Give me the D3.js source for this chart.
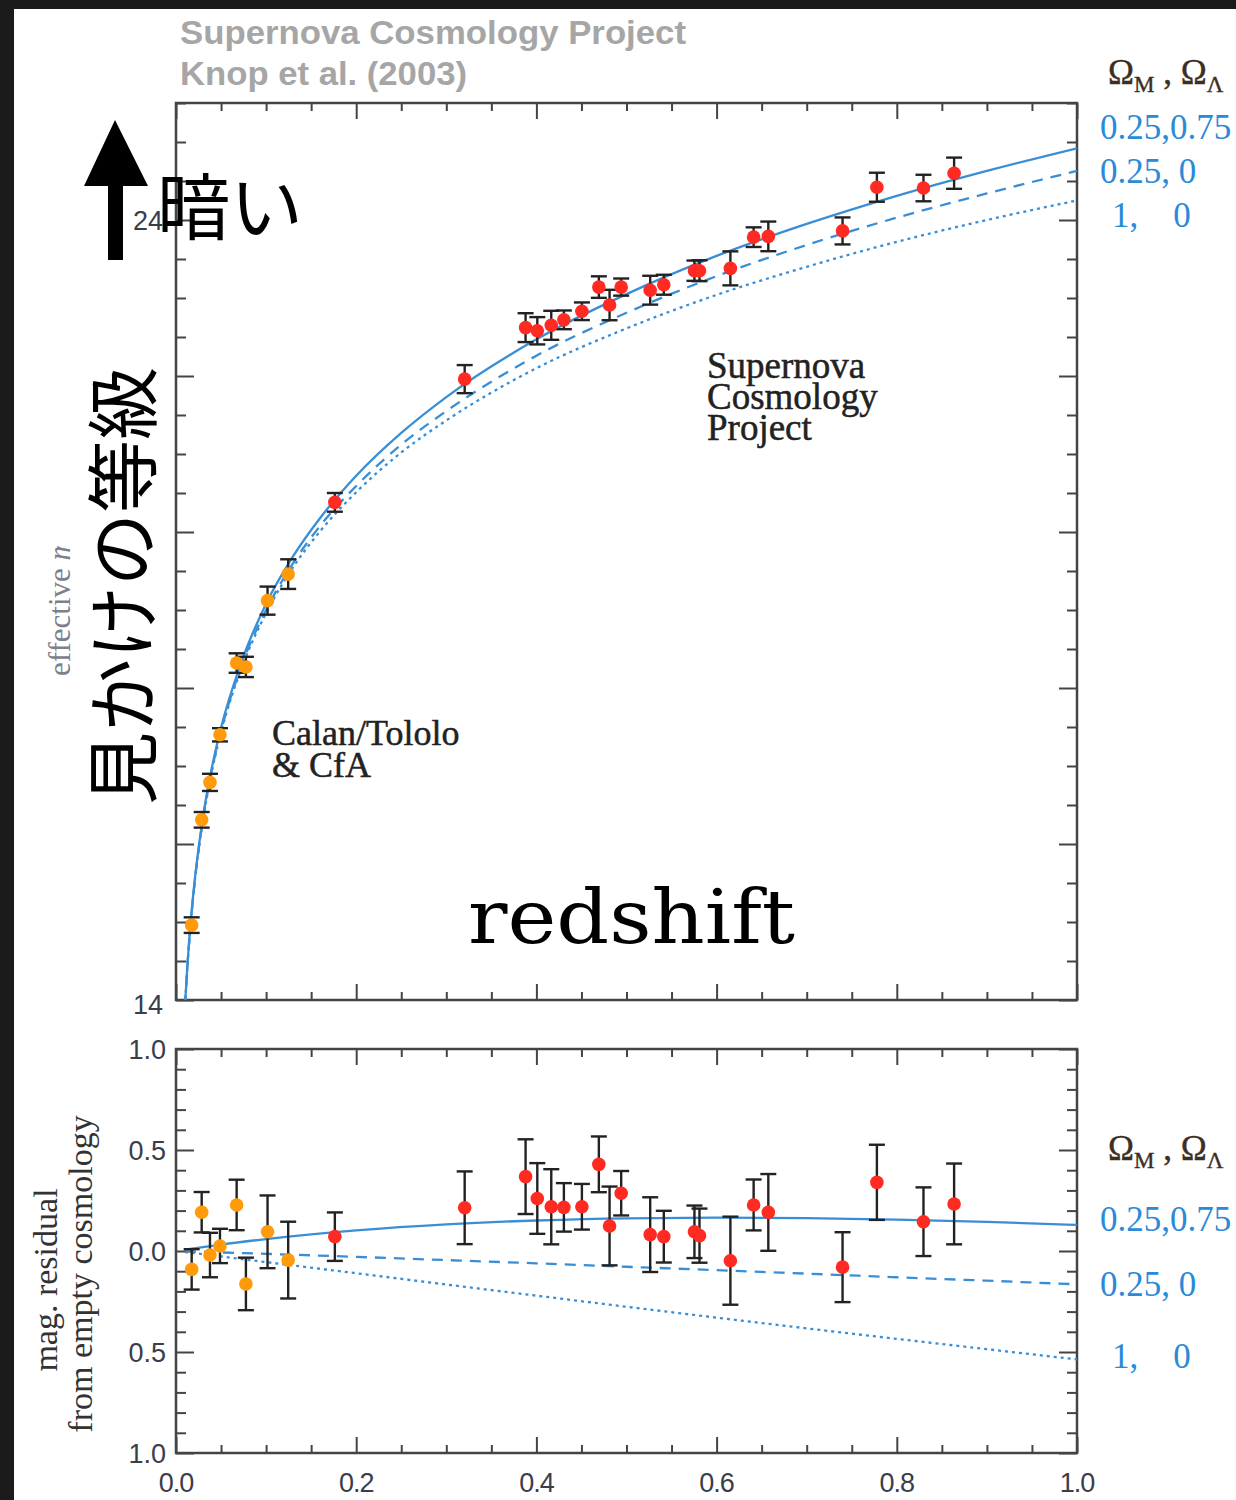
<!DOCTYPE html>
<html>
<head>
<meta charset="utf-8">
<script src="https://cdn.jsdelivr.net/npm/d3@7"></script>
<style>
  body { margin: 0; background: #1b1b1b; }
  svg { display: block; }
</style>
</head>
<body>
<div id="chart"></div>
<script>
// supernova data: redshift, effective m_B, residual from empty cosmology, error (mag)
var zSN = [0.0174, 0.0285, 0.0377, 0.0488, 0.0673, 0.0776, 0.1016, 0.1245,
           0.1763, 0.3204, 0.3880, 0.4010, 0.4165, 0.4305, 0.4505, 0.4693, 0.4812, 0.4941,
           0.5263, 0.5414, 0.5754, 0.5810, 0.6153, 0.6411, 0.6574, 0.7398, 0.7779, 0.8296, 0.8636];
var mSN = [14.96, 16.31, 16.79, 17.40, 18.32, 18.27, 19.12, 19.46,
           20.38, 21.96, 22.62, 22.58, 22.65, 22.72, 22.83, 23.14, 22.91, 23.14,
           23.10, 23.17, 23.35, 23.35, 23.38, 23.78, 23.79, 23.86, 24.42, 24.41, 24.60];
var resSN = [-0.091, 0.192, -0.020, 0.025, 0.228, -0.163, 0.095, -0.045,
             0.071, 0.214, 0.368, 0.260, 0.219, 0.216, 0.219, 0.429, 0.124, 0.286,
             0.081, 0.071, 0.095, 0.076, -0.048, 0.228, 0.191, -0.080, 0.340, 0.145, 0.233];
var errSN = [0.10, 0.10, 0.11, 0.085, 0.125, 0.13, 0.18, 0.19,
             0.12, 0.18, 0.185, 0.175, 0.186, 0.12, 0.113, 0.138, 0.195, 0.11,
             0.185, 0.128, 0.13, 0.134, 0.218, 0.126, 0.19, 0.173, 0.186, 0.17, 0.2];
var sample = ["CT","CT","CT","CT","CT","CT","CT","CT",
              "SCP","SCP","SCP","SCP","SCP","SCP","SCP","SCP","SCP","SCP",
              "SCP","SCP","SCP","SCP","SCP","SCP","SCP","SCP","SCP","SCP","SCP"];

// model curves, upper panel
var zTop = [0.01, 0.0125, 0.015, 0.02, 0.025, 0.03, 0.04, 0.05, 0.07, 0.1, 0.13, 0.16, 0.2, 0.25, 0.3,
            0.4, 0.5, 0.6, 0.7, 0.8, 0.9, 1.0];
var mLambda = [13.93, 14.42, 14.82, 15.45, 15.94, 16.35, 16.99, 17.49, 18.25, 19.08, 19.69, 20.18, 20.72, 21.27, 21.73,
               22.47, 23.05, 23.54, 23.95, 24.31, 24.63, 24.92];
var mOpen = [13.92, 14.41, 14.80, 15.43, 15.92, 16.32, 16.96, 17.45, 18.20, 19.00, 19.60, 20.08, 20.59, 21.12, 21.55,
             22.26, 22.81, 23.28, 23.68, 24.03, 24.34, 24.63];
var mEdS = [13.92, 14.40, 14.80, 15.43, 15.91, 16.31, 16.94, 17.43, 18.17, 18.96, 19.55, 20.01, 20.51, 21.02, 21.43,
            22.10, 22.61, 23.04, 23.40, 23.72, 24.00, 24.25];

// model curves, residual panel
var zBot = [0.01, 0.05, 0.1, 0.2, 0.3, 0.4, 0.5, 0.6, 0.7, 0.8, 0.9, 1.0];
var rLambda = [0.007, 0.032, 0.059, 0.102, 0.132, 0.151, 0.162, 0.165, 0.163, 0.155, 0.144, 0.129];
var rOpen = [-0.001, -0.007, -0.014, -0.029, -0.045, -0.061, -0.078, -0.095, -0.112, -0.130, -0.147, -0.165];
var rEdS = [-0.005, -0.027, -0.055, -0.110, -0.166, -0.221, -0.276, -0.330, -0.383, -0.435, -0.486, -0.537];

var models = ["0.25,0.75", "0.25, 0", "1,    0"];
var xLabels = ["0.0", "0.2", "0.4", "0.6", "0.8", "1.0"];
var topYLabels = [14, 24];
var botYLabels = [1, 0.5, 0, -0.5, -1];

var W = 1236, H = 1500;
var svg = d3.select("#chart").append("svg").attr("width", W).attr("height", H);
svg.append("rect").attr("width", W).attr("height", H).attr("fill", "#1b1b1b");
svg.append("rect").attr("x", 14).attr("y", 9).attr("width", W - 14).attr("height", H - 9).attr("fill", "#fff");

var x = d3.scaleLinear().domain([0, 1]).range([176, 1077]);
var yTop = d3.scaleLinear().domain([14, 25.5]).range([1000, 103]);
var yBot = d3.scaleLinear().domain([-1, 1]).range([1453, 1049]);

var blue = "#3a8ed6", ink = "#444";
var xMaj = d3.range(0, 6).map(function(i){ return i / 5; });
var xMin = d3.range(0, 21).map(function(i){ return i / 20; }).filter(function(v){ return Math.round(v * 20) % 4; });

function tickSet(scale, axisFn, vals, len, tr) {
  svg.append("g").attr("transform", tr)
    .call(axisFn(scale).tickValues(vals).tickSize(-len).tickFormat(""))
    .call(function(g){
      g.select(".domain").remove();
      g.selectAll("line").attr("stroke", ink).attr("stroke-width", 2);
    });
}

function panel(y, yMaj, yMin) {
  var y0 = y.range()[0], y1 = y.range()[1];
  tickSet(x, d3.axisBottom, xMin, 8, "translate(0," + y0 + ")");
  tickSet(x, d3.axisBottom, xMaj, 16, "translate(0," + y0 + ")");
  tickSet(x, d3.axisTop, xMin, 8, "translate(0," + y1 + ")");
  tickSet(x, d3.axisTop, xMaj, 16, "translate(0," + y1 + ")");
  tickSet(y, d3.axisLeft, yMin, 10, "translate(176,0)");
  tickSet(y, d3.axisLeft, yMaj, 18, "translate(176,0)");
  tickSet(y, d3.axisRight, yMin, 10, "translate(1077,0)");
  tickSet(y, d3.axisRight, yMaj, 18, "translate(1077,0)");
  svg.append("rect").attr("x", 176).attr("y", y1).attr("width", 1077 - 176).attr("height", y0 - y1)
    .attr("fill", "none").attr("stroke", ink).attr("stroke-width", 2.5);
}

panel(yTop, [14, 16, 18, 20, 22, 24],
  d3.range(29, 52).map(function(i){ return i / 2; }).filter(function(v){ return v % 2 !== 0; }));
panel(yBot, [-1, -0.5, 0, 0.5, 1],
  d3.range(-10, 11).map(function(i){ return i / 10; }).filter(function(v){ return Math.round(v * 10) % 5; }));

// clip paths
svg.append("clipPath").attr("id", "clipTop").append("rect")
  .attr("x", 176).attr("y", 103).attr("width", 901).attr("height", 897);
svg.append("clipPath").attr("id", "clipBot").append("rect")
  .attr("x", 176).attr("y", 1049).attr("width", 901).attr("height", 404);

var dashes = [null, "11,8", "3,4"];

function curves(y, zs, sets, clip) {
  var g = svg.append("g").attr("clip-path", "url(#" + clip + ")");
  sets.forEach(function(vals, k) {
    var line = d3.line().curve(d3.curveMonotoneX)
      .x(function(d, i){ return x(zs[i]); })
      .y(function(d){ return y(d); });
    g.append("path").attr("d", line(vals)).attr("fill", "none")
      .attr("stroke", blue).attr("stroke-width", 2.3)
      .attr("stroke-dasharray", dashes[k]);
  });
}
curves(yTop, zTop, [mLambda, mOpen, mEdS], "clipTop");
curves(yBot, zBot, [rLambda, rOpen, rEdS], "clipBot");

function points(y, vals) {
  var g = svg.append("g");
  var bars = g.selectAll(".eb").data(vals).enter().append("g");
  bars.append("line")
    .attr("x1", function(d, i){ return x(zSN[i]); }).attr("x2", function(d, i){ return x(zSN[i]); })
    .attr("y1", function(d, i){ return y(d - errSN[i]); }).attr("y2", function(d, i){ return y(d + errSN[i]); });
  [-1, 1].forEach(function(s) {
    bars.append("line")
      .attr("x1", function(d, i){ return x(zSN[i]) - 8; }).attr("x2", function(d, i){ return x(zSN[i]) + 8; })
      .attr("y1", function(d, i){ return y(d + s * errSN[i]); }).attr("y2", function(d, i){ return y(d + s * errSN[i]); });
  });
  bars.selectAll("line").attr("stroke", "#222").attr("stroke-width", 2.4);
  g.selectAll("circle").data(vals).enter().append("circle")
    .attr("cx", function(d, i){ return x(zSN[i]); })
    .attr("cy", function(d){ return y(d); })
    .attr("r", 6.8)
    .attr("fill", function(d, i){ return sample[i] === "CT" ? "#ff9a0a" : "#ff2a22"; });
}
points(yTop, mSN);
points(yBot, resSN);

// tick labels
var lab = "'Liberation Sans', Arial, sans-serif";
svg.selectAll(".xl").data(xLabels).enter().append("text")
  .attr("x", function(d){ return x(+d); }).attr("y", 1492)
  .attr("text-anchor", "middle").attr("font-family", lab).attr("font-size", 27)
  .attr("letter-spacing", -1).attr("fill", "#3a3d4a").text(function(d){ return d; });
svg.selectAll(".yl").data(botYLabels).enter().append("text")
  .attr("x", 166).attr("y", function(d){ return yBot(d) + 10; })
  .attr("text-anchor", "end").attr("font-family", lab).attr("font-size", 27)
  .attr("fill", "#3a3d4a").text(function(d){ return Math.abs(d).toFixed(1); });
svg.selectAll(".ytl").data(topYLabels).enter().append("text")
  .attr("x", 163).attr("y", function(d){ return yTop(d) + (d === 14 ? 14 : 10); })
  .attr("text-anchor", "end").attr("font-family", lab).attr("font-size", 27)
  .attr("fill", "#3a3d4a").text(function(d){ return d; });

// title
svg.append("text").attr("x", 180).attr("y", 44).attr("font-family", lab).attr("font-weight", "bold")
  .attr("font-size", 33).attr("fill", "#a6a6a6").attr("textLength", 506).attr("lengthAdjust", "spacingAndGlyphs")
  .text("Supernova Cosmology Project");
svg.append("text").attr("x", 180).attr("y", 85).attr("font-family", lab).attr("font-weight", "bold")
  .attr("font-size", 33).attr("fill", "#a6a6a6").attr("textLength", 287).attr("lengthAdjust", "spacingAndGlyphs")
  .text("Knop et al. (2003)");

// annotations inside panel (one text element per block)
var serif = "'Liberation Serif', 'Times New Roman', serif";
function block(lines, x0, y0, lh, size) {
  var t = svg.append("text").attr("font-family", serif).attr("font-size", size)
    .attr("fill", "#222").attr("stroke", "#222").attr("stroke-width", 0.5);
  lines.forEach(function(s, i) {
    t.append("tspan").attr("x", x0).attr("y", y0 + i * lh).text(s);
  });
}
block(["Supernova", "Cosmology", "Project"], 707, 378, 31, 37);
block(["Calan/Tololo", "& CfA"], 272, 745, 32, 36);

// legends
function legend(yHead, ys) {
  var t = svg.append("text").attr("x", 1108).attr("y", yHead).attr("font-family", serif)
    .attr("font-size", 35).attr("fill", "#3b2f22").attr("stroke", "#3b2f22").attr("stroke-width", 0.4);
  t.append("tspan").text("\u03A9");
  t.append("tspan").attr("font-size", 23).attr("dy", 8).text("M");
  t.append("tspan").attr("dy", -8).text(" , \u03A9");
  t.append("tspan").attr("font-size", 23).attr("dy", 8).text("\u039B");
  models.forEach(function(m, i) {
    svg.append("text").attr("x", i === 2 ? 1112 : 1100).attr("y", ys[i])
      .attr("font-family", serif).attr("font-size", 35).attr("fill", "#2b8ad8")
      .attr("xml:space", "preserve").style("white-space", "pre").text(m);
  });
}
legend(84, [139, 183, 227]);
legend(1160, [1231, 1296, 1368]);

// residual axis label
var resLab = svg.append("text").attr("transform", "translate(0,0) rotate(-90)")
  .attr("text-anchor", "middle").attr("font-family", serif).attr("font-size", 34).attr("fill", "#333");
resLab.append("tspan").attr("x", -1280).attr("y", 57).text("mag. residual");
resLab.append("tspan").attr("x", -1274).attr("y", 92).text("from empty cosmology");

// partly hidden original y label
svg.append("clipPath").attr("id", "clipLab").append("rect")
  .attr("x", 36).attr("y", 546).attr("width", 44).attr("height", 150);
var eff = svg.append("g").attr("clip-path", "url(#clipLab)")
  .append("text")
  .attr("transform", "translate(70,676) rotate(-90)")
  .attr("font-family", serif).attr("font-size", 31).attr("fill", "#7b808c");
eff.append("tspan").text("effective ");
eff.append("tspan").attr("font-style", "italic").text("m");
eff.append("tspan").attr("font-size", 20).attr("dy", 6).text("B");

// slide overlay: arrow and Japanese labels
svg.append("path")
  .attr("d", "M115,120 L148,186 L123,186 L123,260 L108,260 L108,186 L84,186 Z")
  .attr("fill", "#000");
var jp = "'Noto Sans CJK JP', 'Noto Sans CJK SC', sans-serif";
svg.append("text").attr("x", 157).attr("y", 234).attr("font-family", jp)
  .attr("font-size", 73).attr("fill", "#000").text("暗い");
svg.append("text").attr("transform", "translate(118,586) rotate(-90)")
  .attr("text-anchor", "middle").attr("dominant-baseline", "central")
  .attr("font-family", jp).attr("font-size", 73).attr("fill", "#000").text("見かけの等級");
svg.append("text").attr("x", 468).attr("y", 943).attr("font-family", "'DejaVu Serif', serif")
  .attr("font-size", 74).attr("fill", "#000").attr("textLength", 327).attr("lengthAdjust", "spacingAndGlyphs")
  .text("redshift");
</script>
</body>
</html>
